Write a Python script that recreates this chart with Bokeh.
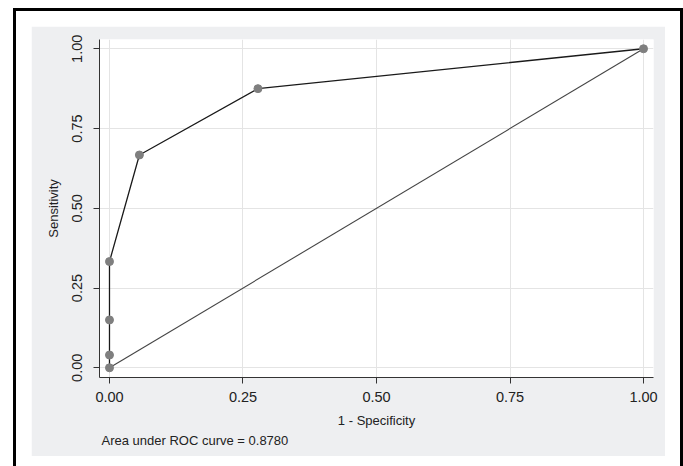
from bokeh.plotting import figure
from bokeh.models import FixedTicker, PrintfTickFormatter, Range1d, Title
from bokeh.embed import file_html
from bokeh.resources import INLINE

# ---- data ----
fpr = [0.0, 0.0, 0.0, 0.0, 0.056, 0.278, 1.0]          # 1 - Specificity
tpr = [0.0, 0.04, 0.15, 0.333, 0.667, 0.875, 1.0]       # Sensitivity
ref_x = [0.0, 1.0]
ref_y = [0.0, 1.0]
ticks = [0.0, 0.25, 0.5, 0.75, 1.0]
auc_text = "Area under ROC curve = 0.8780"
x_title = "1 - Specificity"
y_title = "Sensitivity"

FONT = "Liberation Sans"
GRAY_BG = "#eeeff1"

p = figure(width=634, height=430, output_backend="svg", toolbar_location=None,
           x_range=Range1d(-0.0187, 1.0187), y_range=Range1d(-0.0304, 1.029),
           min_border_left=68, min_border_right=12, min_border_top=13, min_border_bottom=79,
           margin=(26, 18, 10, 31),
           styles={"outline": "3px solid black", "outline-offset": "15px"})
p.background_fill_color = "white"
p.border_fill_color = GRAY_BG
p.outline_line_color = None

# grid
for g in (p.xgrid, p.ygrid):
    g.grid_line_color = "#e4e4e4"
    g.grid_line_width = 1
p.xgrid.ticker = FixedTicker(ticks=ticks)
p.ygrid.ticker = FixedTicker(ticks=ticks)

# axes
for ax in (p.xaxis, p.yaxis):
    ax.ticker = FixedTicker(ticks=ticks)
    ax.formatter = PrintfTickFormatter(format="%.2f")
    ax.axis_line_color = "#333333"
    ax.major_tick_line_color = "#333333"
    ax.major_tick_in = 0
    ax.major_tick_out = 6
    ax.minor_tick_line_color = None
    ax.major_label_text_font = FONT
    ax.major_label_text_font_size = "14.5px"
    ax.major_label_text_color = "#222222"
    ax.axis_label_text_font = FONT
    ax.axis_label_text_font_size = "13px"
    ax.axis_label_text_font_style = "normal"
    ax.axis_label_text_color = "#222222"

p.xaxis.axis_label = x_title
p.yaxis.axis_label = y_title
p.yaxis.major_label_orientation = "vertical"
p.xaxis.major_label_standoff = 8
p.yaxis.major_label_standoff = 11
p.xaxis.axis_label_standoff = 8
p.yaxis.axis_label_standoff = 9

# reference diagonal
p.line(ref_x, ref_y, line_color="#444444", line_width=1.1)
# ROC curve
p.line(fpr, tpr, line_color="#1a1a1a", line_width=1.3)
p.scatter(fpr, tpr, size=8, fill_color="#7f7f7f", line_color="#7f7f7f")

# note below the axis title
p.add_layout(Title(text=auc_text, align="left", offset=2, standoff=1,
                   text_font=FONT, text_font_size="13px", text_font_style="normal",
                   text_color="#222222"), "below")

open("out.html", "w").write(file_html(p, INLINE))
